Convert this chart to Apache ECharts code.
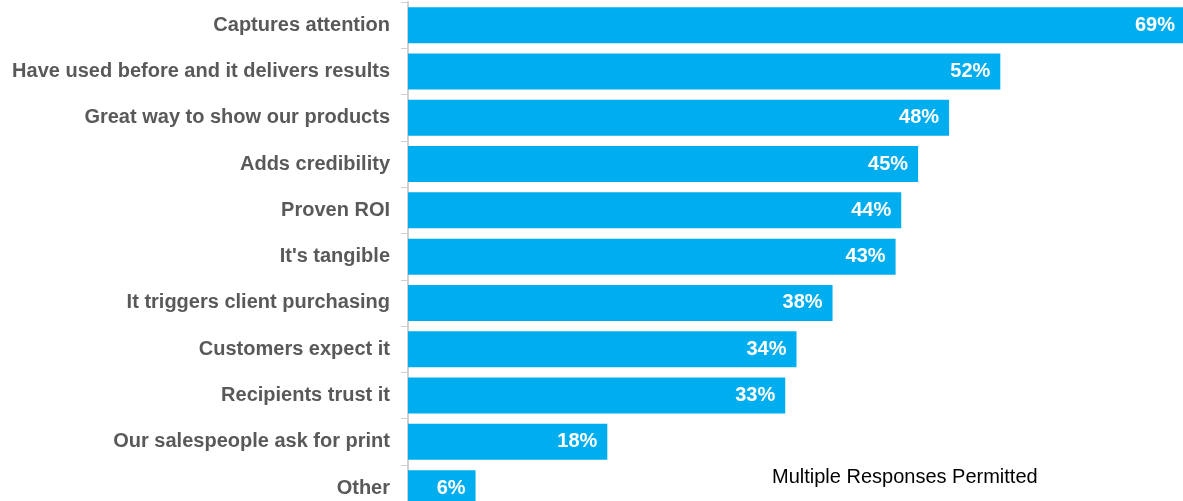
<!DOCTYPE html>
<html>
<head>
<meta charset="utf-8">
<script src="https://cdn.jsdelivr.net/npm/echarts@6/dist/echarts.min.js"></script>
<style>
html,body{margin:0;padding:0;background:#fff;}
#chart{width:1183px;height:501px;}
</style>
</head>
<body>
<div id="chart"></div>
<script>
const categories = [
  "Captures attention",
  "Have used before and it delivers results",
  "Great way to show our products",
  "Adds credibility",
  "Proven ROI",
  "It's tangible",
  "It triggers client purchasing",
  "Customers expect it",
  "Recipients trust it",
  "Our salespeople ask for print",
  "Other"
];
// bar lengths (percent)
const values = [69, 52.6, 48.05, 45.3, 43.8, 43.3, 37.7, 34.5, 33.5, 17.7, 6.0];
// printed labels
const labels = ["69%", "52%", "48%", "45%", "44%", "43%", "38%", "34%", "33%", "18%", "6%"];
const note = "Multiple Responses Permitted";

const chart = echarts.init(document.getElementById('chart'), null, {renderer: 'canvas'});
chart.setOption({
  animation: false,
  backgroundColor: '#ffffff',
  grid: { left: 408, top: 2, width: 777, height: 509.3, containLabel: false, outerBoundsMode: 'none' },
  xAxis: {
    type: 'value', min: 0, max: 69, show: false
  },
  yAxis: {
    type: 'category',
    inverse: true,
    data: categories,
    axisLine: { show: true, lineStyle: { color: '#d0d0d0', width: 2 } },
    axisTick: { show: true, length: 7, lineStyle: { color: '#d0d0d0', width: 1 } },
    axisLabel: {
      margin: 18,
      color: '#595959',
      fontFamily: 'Liberation Sans, Arial, sans-serif',
      fontWeight: 'bold',
      fontSize: 20
    }
  },
  series: [{
    type: 'bar',
    data: values,
    barWidth: 36,
    clip: false,
    itemStyle: { color: '#00AEEF' },
    label: {
      show: true,
      position: 'insideRight',
      distance: 10,
      color: '#ffffff',
      fontFamily: 'Liberation Sans, Arial, sans-serif',
      fontWeight: 'bold',
      fontSize: 20
    ,
      formatter: p => labels[p.dataIndex]
    }
  }],
  graphic: [{
    type: 'text',
    left: 772,
    top: 467,
    style: {
      text: note,
      fill: '#000000',
      font: '20px "Liberation Sans", Arial, sans-serif'
    }
  }]
});
</script>
</body>
</html>
